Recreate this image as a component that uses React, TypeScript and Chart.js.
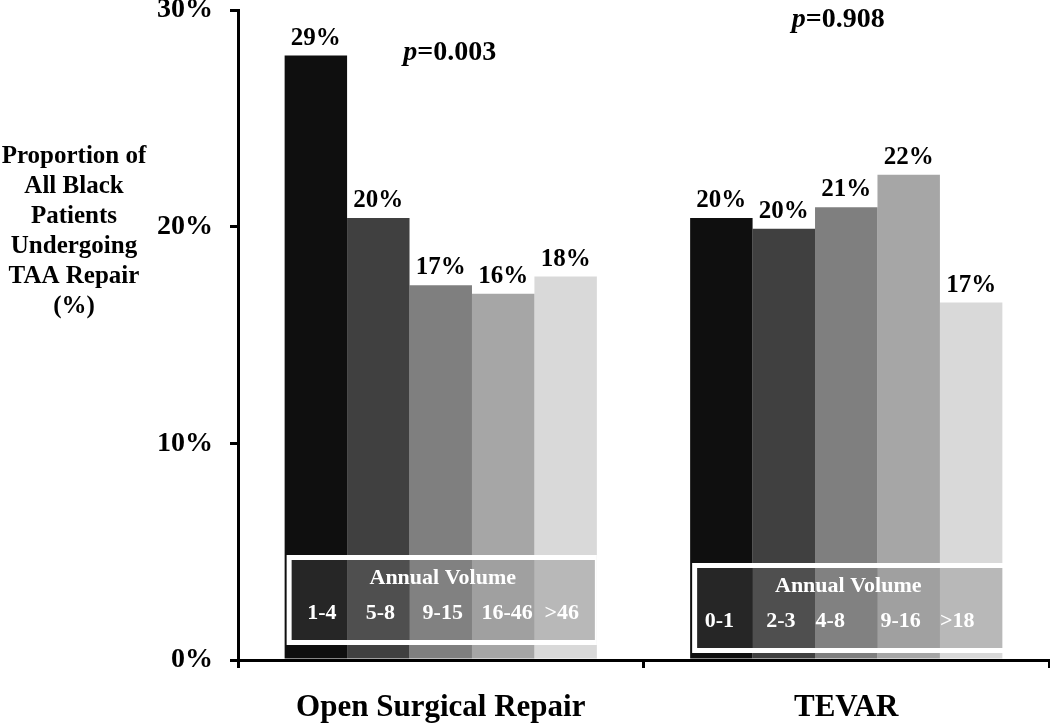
import React, { useEffect, useRef } from "react";
import { Chart, registerables } from "chart.js";

Chart.register(...registerables);

const categories = ["Open Surgical Repair", "TEVAR"];
const tierNames = ["Volume tier 1", "Volume tier 2", "Volume tier 3", "Volume tier 4", "Volume tier 5"];
const tier1 = [27.9, 20.4];
const tier2 = [20.4, 19.9];
const tier3 = [17.3, 20.9];
const tier4 = [16.9, 22.4];
const tier5 = [17.7, 16.5];
const openLabels = ["29%", "20%", "17%", "16%", "18%"];
const tevarLabels = ["20%", "20%", "21%", "22%", "17%"];
const openVolumes = ["1-4", "5-8", "9-15", "16-46", ">46"];
const tevarVolumes = ["0-1", "2-3", "4-8", "9-16", ">18"];
const pValues = ["0.003", "0.908"];
const yTickValues = [0, 10, 20, 30];
const yTitleLines = ["Proportion of", "All Black", "Patients", "Undergoing", "TAA Repair", "(%)"];
const legendTitle = "Annual Volume";

const barColors = ["#0f0f0f", "#404040", "#7f7f7f", "#a6a6a6", "#d9d9d9"];
const bandColors = ["#262626", "#4f4f4f", "#818181", "#a0a0a0", "#b8b8b8"];
const FONT = "'Liberation Serif', 'Times New Roman', serif";

const overlayPlugin = {
  id: "overlayPlugin",
  afterDatasetsDraw(chart: any) {
    const ctx = chart.ctx;
    const area = chart.chartArea;
    const ys = chart.scales.y;
    const groupLabels = [openLabels, tevarLabels];
    const groupVolumes = [openVolumes, tevarVolumes];
    ctx.save();
    // value labels
    ctx.fillStyle = "#000";
    ctx.font = `bold 25px ${FONT}`;
    ctx.textAlign = "center";
    ctx.textBaseline = "alphabetic";
    for (let g = 0; g < categories.length; g++) {
      for (let d = 0; d < chart.data.datasets.length; d++) {
        const bar = chart.getDatasetMeta(d).data[g];
        ctx.fillText(groupLabels[g][d], bar.x, bar.y - 11);
      }
    }
    // legend boxes
    const bottomOffsets = [15, 7];
    const rightExtra = [0, 2];
    const volOffsets = [
      [6, 2, 2, 4, -4],
      [-2, -3, -16, -8, -14],
    ];
    for (let g = 0; g < categories.length; g++) {
      const bars = chart.data.datasets.map((_: any, d: number) => chart.getDatasetMeta(d).data[g]);
      const first = bars[0];
      const last = bars[bars.length - 1];
      const left = first.x - first.width / 2 + 2;
      const right = last.x + last.width / 2 + rightExtra[g];
      const bottom = area.bottom - bottomOffsets[g];
      const top = bottom - 90;
      ctx.fillStyle = "#ffffff";
      ctx.fillRect(left, top, right - left, bottom - top);
      for (let d = 0; d < bars.length; d++) {
        const b = bars[d];
        let bl = b.x - b.width / 2;
        let br = b.x + b.width / 2;
        if (d === 0) bl = left + 5;
        if (d === bars.length - 1) br = right - 2;
        ctx.fillStyle = bandColors[d];
        ctx.fillRect(bl, top + 5, br - bl + (d < bars.length - 1 ? 0.5 : 0), bottom - top - 10);
      }
      ctx.fillStyle = "#ffffff";
      ctx.textAlign = "center";
      ctx.textBaseline = "middle";
      ctx.font = `bold 22px ${FONT}`;
      const mid = bars[2];
      ctx.fillText(legendTitle, mid.x + 2, top + 23);
      ctx.font = `bold 22px ${FONT}`;
      for (let d = 0; d < bars.length; d++) {
        ctx.fillText(groupVolumes[g][d], bars[d].x + volOffsets[g][d], top + 58);
      }
    }
    // p-values
    const pOffsets = [9, -8];
    const pLevels = [27.7, 29.2];
    const xs = chart.scales.x;
    for (let g = 0; g < categories.length; g++) {
      const cx = xs.getPixelForValue(g) + pOffsets[g];
      const yb = ys.getPixelForValue(pLevels[g]);
      ctx.font = `italic bold 28px ${FONT}`;
      const w1 = ctx.measureText("p").width;
      ctx.font = `bold 28px ${FONT}`;
      const rest = "=" + pValues[g];
      const w2 = ctx.measureText(rest).width;
      const sx = cx - (w1 + w2) / 2;
      ctx.fillStyle = "#000";
      ctx.textAlign = "left";
      ctx.textBaseline = "alphabetic";
      ctx.font = `italic bold 28px ${FONT}`;
      ctx.fillText("p", sx, yb);
      ctx.font = `bold 28px ${FONT}`;
      ctx.fillText(rest, sx + w1, yb);
    }
    // y-axis title
    ctx.fillStyle = "#000";
    ctx.textAlign = "center";
    ctx.textBaseline = "middle";
    ctx.font = `bold 25px ${FONT}`;
    yTitleLines.forEach((line, i) => {
      ctx.fillText(line, 74, 157 + i * 30);
    });
    ctx.restore();
  },
};

export default function App() {
  const canvasRef = useRef<HTMLCanvasElement | null>(null);

  useEffect(() => {
    const canvas = canvasRef.current;
    if (!canvas) return;
    const datasetValues = [tier1, tier2, tier3, tier4, tier5];
    const chart = new Chart(canvas, {
      type: "bar",
      data: {
        labels: categories,
        datasets: datasetValues.map((vals, i) => ({
          label: tierNames[i],
          data: vals,
          backgroundColor: barColors[i],
          borderWidth: 0,
          categoryPercentage: 0.77,
          barPercentage: 1.0,
        })),
      },
      options: {
        responsive: false,
        animation: false,
        devicePixelRatio: 1,
        layout: { padding: { top: 10, right: 1, left: 0, bottom: 0 } },
        plugins: {
          legend: { display: false },
          tooltip: { enabled: false },
          title: { display: false },
        },
        scales: {
          x: {
            offset: true,
            grid: {
              offset: true,
              drawOnChartArea: false,
              drawTicks: true,
              tickLength: 8,
              lineWidth: 3,
              color: "#000",
            },
            border: { display: true, width: 3, color: "#000" },
            ticks: {
              color: "#000",
              font: { family: FONT, size: 31, weight: "bold" },
              padding: 21,
            },
            afterFit: (s: any) => {
              s.height = 63;
              s.paddingLeft = 0;
              s.paddingRight = 0;
            },
          },
          y: {
            min: 0,
            max: 30,
            afterBuildTicks: (s: any) => {
              s.ticks = yTickValues.map((v) => ({ value: v }));
            },
            grid: {
              drawOnChartArea: false,
              drawTicks: true,
              tickLength: 8,
              lineWidth: 3,
              color: "#000",
            },
            border: { display: true, width: 3, color: "#000" },
            ticks: {
              color: "#000",
              font: { family: FONT, size: 28, weight: "bold" },
              padding: 17,
              callback: (v: any) => `${v}%`,
            },
            afterFit: (s: any) => {
              s.width = 238;
              s.paddingTop = 0;
              s.paddingBottom = 0;
            },
          },
        },
      },
      plugins: [overlayPlugin],
    });
    return () => chart.destroy();
  }, []);

  return (
    <div style={{ position: "absolute", left: 0, top: 0, width: 1050, height: 723, background: "#fff" }}>
      <canvas ref={canvasRef} width={1050} height={723} style={{ width: 1050, height: 723 }} />
    </div>
  );
}
